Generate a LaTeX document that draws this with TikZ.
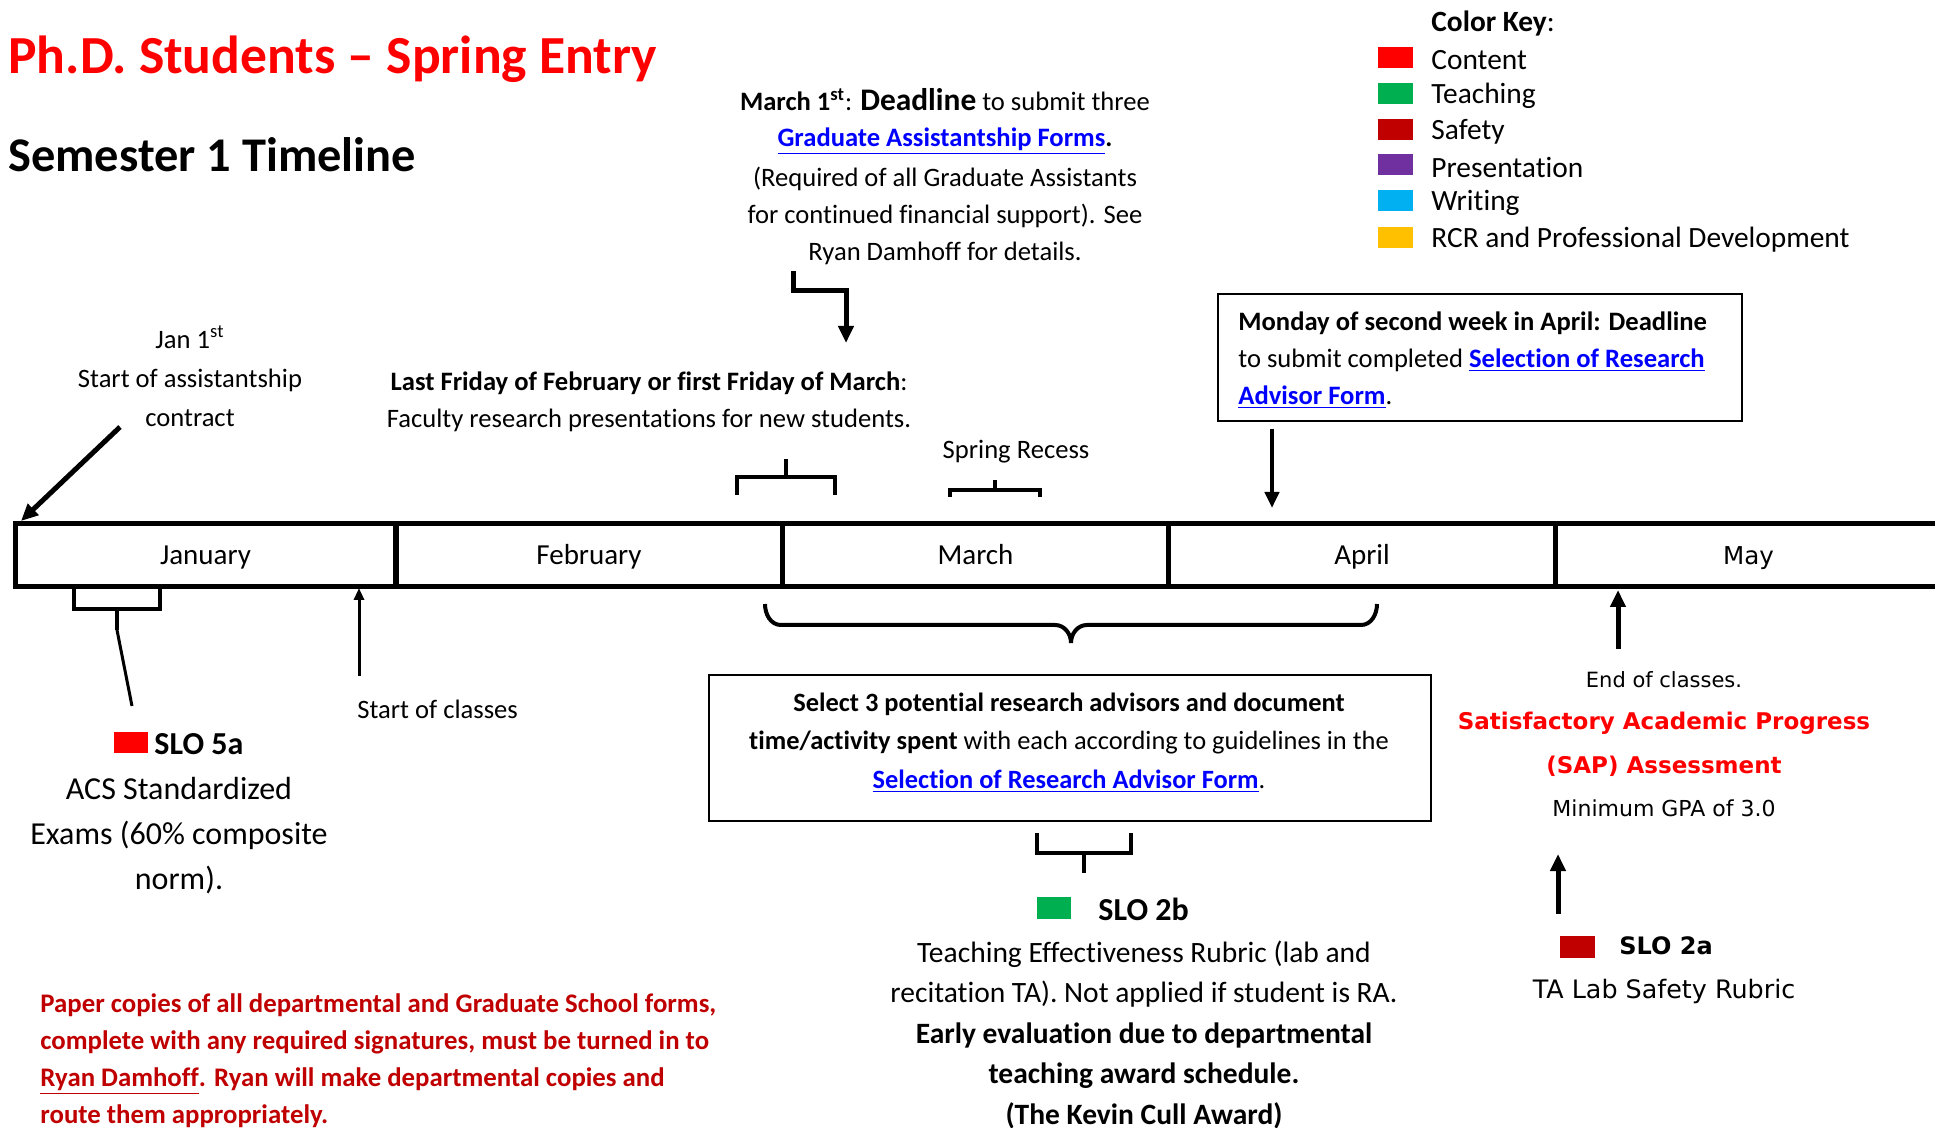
\documentclass[tikz,border=0pt]{standalone}
\usepackage{fontspec}
\setmainfont{Carlito}[Ligatures={TeX,NoCommon}]
\newfontfamily\vfont{DejaVu Sans}[Ligatures={NoCommon}]
\usetikzlibrary{arrows.meta,calc}
\definecolor{titlered}{HTML}{FF0000}
\definecolor{darkred}{HTML}{C00000}
\definecolor{kgreen}{HTML}{00B050}
\definecolor{kpurple}{HTML}{7030A0}
\definecolor{kblue}{HTML}{00B0F0}
\definecolor{kyellow}{HTML}{FFC000}
\definecolor{linkblue}{HTML}{0000FF}
\newcommand\lnk[1]{\textcolor{linkblue}{\textbf{\underline{#1}}}}
\newcommand\bodyf{\fontsize{13.3}{18.5}\selectfont}
\tikzset{
  txt/.style={inner sep=0pt, font=\bodyf},
  month/.style={draw, line width=2.5pt, minimum width=193.25pt, minimum height=31.5pt, inner sep=0pt, text height=10pt, text depth=0.5pt, font=\fontsize{14.5}{17}\selectfont},
  keysq/.style={rectangle, minimum width=17.5pt, minimum height=10.5pt, inner sep=0pt},
  keytxt/.style={anchor=west, inner sep=0pt, font=\fontsize{14.7}{17}\selectfont},
  arr/.style={line width=2.5pt, -{Triangle[length=8.5pt,width=7.5pt]}},
  thinarr/.style={line width=1.5pt, -{Triangle[length=6pt,width=5pt]}},
  brk/.style={line width=2pt},
  boxed/.style={draw, line width=1pt, inner sep=0pt}
}
\begin{document}
\begin{tikzpicture}[x=0.5pt,y=-0.5pt]
\useasboundingbox (0,0) rectangle (1935,1128);
\clip (0,0) rectangle (1935,1128);
\fill[white] (0,0) rectangle (1935,1128);

% titles
\node[anchor=west, inner sep=0pt, text=titlered, font=\fontsize{26.8}{32}\selectfont\bfseries] (title) at (8,59) {Ph.D. Students – Spring Entry};
\node[anchor=west, inner sep=0pt, font=\fontsize{24.2}{28}\selectfont\bfseries] (sem) at (8,155) {Semester 1 Timeline};

% color key
\node[keytxt] (keyt) at (1431,24) {\textbf{Color Key}:};
\node[keysq, fill=titlered] (k1) at (1395.5,58) {};
\node[keytxt] (k1t) at (1431,60) {Content};
\node[keysq, fill=kgreen] (k2) at (1395.5,94) {};
\node[keytxt] (k2t) at (1431,96) {Teaching};
\node[keysq, fill=darkred] (k3) at (1395.5,130) {};
\node[keytxt] (k3t) at (1431,132) {Safety};
\node[keysq, fill=kpurple] (k4) at (1395.5,165) {};
\node[keytxt] (k4t) at (1431,167) {Presentation};
\node[keysq, fill=kblue] (k5) at (1395.5,201) {};
\node[keytxt] (k5t) at (1431,203) {Writing};
\node[keysq, fill=kyellow] (k6) at (1395.5,238) {};
\node[keytxt] (k6t) at (1431,240) {RCR and Professional Development};

% March 1st deadline
\node[txt] (m1a) at (945,100) {\textbf{March 1\textsuperscript{st}}: {\fontsize{15.7}{18}\selectfont\textbf{Deadline}} to submit three};
\node[txt] (m1b) at (945,141) {\lnk{Graduate Assistantship Forms}\textbf{.}};
\node[txt, align=center] (m1c) at (945,215.5) {(Required of all Graduate Assistants\\for continued financial support). See\\Ryan Damhoff for details.};
\coordinate (z0) at (793,271);
\coordinate (z1) at (846,343);
\draw[arr] (z0) -- ++(0,20) -| (z1);

% last friday
\node[txt, align=center] (lf) at (649,402) {\textbf{Last Friday of February or first Friday of March}:\\Faculty research presentations for new students.};
\draw[brk] (737,495) -- (737,477) -- (835,477) -- (835,495);
\draw[brk] (786,477) -- (786,459);

% spring recess
\node[txt] (sr) at (1016,452) {Spring Recess};
\draw[brk] (950,497) -- (950,490) -- (1040,490) -- (1040,497);
\draw[brk] (995,490) -- (995,480);

% April box
\node[boxed, minimum width=262pt, minimum height=63.5pt] (aprbox) at (1480,357.5) {};
\node[txt, anchor=west, align=left] (aprtxt) at (1238,360.5) {\textbf{Monday of second week in April: Deadline}\\to submit completed \lnk{Selection of Research}\\\lnk{Advisor Form}.};
\coordinate (a1) at (1272,429);
\coordinate (a2) at (1272,508);
\draw[line width=2pt, -{Triangle[length=8pt,width=7pt]}] (a1) -- (a2);

% Jan 1st
\node[txt, align=center, font=\fontsize{13.3}{19.5}\selectfont] (jan1) at (190,376) {Jan 1\textsuperscript{st}\\Start of assistantship\\contract};
\coordinate (j0) at (120,427);
\coordinate (j1) at (21,521);
\draw[arr] (j0) -- (j1);

% timeline
\node[month, minimum width=190.5pt] (jan) at (205.5,555.5) {January};
\node[month] (feb) at (589,555.5) {February};
\node[month] (mar) at (975.5,555.5) {March};
\node[month] (apr) at (1362,555.5) {April};
\node[month, font=\vfont\fontsize{12.3}{15}\selectfont] (may) at (1748.5,555.5) {May};

% SLO 5a
\draw[brk] (74,587) -- (74,609) -- (160,609) -- (160,587);
\coordinate (s5a) at (117,609);
\coordinate (s5b) at (117,630);
\coordinate (s5c) at (132,706);
\draw[brk] (s5a) -- (s5b);
\draw[line width=1.5pt] (s5b) -- (s5c);
\node[keysq, fill=titlered, minimum width=17pt, minimum height=10.5pt] (sq5a) at (131,742.5) {};
\node[anchor=west, inner sep=0pt, font=\fontsize{16}{19}\selectfont\bfseries] (slo5a) at (154,744) {SLO 5a};
\node[align=center, inner sep=0pt, font=\fontsize{16}{22.5}\selectfont] (acs) at (179,835.5) {ACS Standardized\\Exams (60\% composite\\norm).};

% start of classes
\coordinate (sc0) at (359,676);
\coordinate (sc1) at (359,588);
\draw[thinarr] (sc0) -- (sc1);
\node[txt, anchor=west] (sct) at (357,709) {Start of classes};

% big brace
\draw[brk] (765,604) to[out=-90,in=180] (781,625) -- (1055,625) to[out=0,in=90] (1071,643) to[out=90,in=180] (1087,625) -- (1361,625) to[out=0,in=-90] (1377,604);

% select box
\node[boxed, minimum width=361pt, minimum height=72.5pt] (selbox) at (1070,748) {};
\node[txt, align=center, font=\fontsize{13.2}{19.2}\selectfont] (seltxt) at (1069,742.5) {\textbf{Select 3 potential research advisors and document}\\\textbf{time/activity spent} with each according to guidelines in the\\\lnk{Selection of Research Advisor Form}.};

% SLO 2b
\draw[brk] (1037,833) -- (1037,853) -- (1131,853) -- (1131,833);
\draw[brk] (1084,853) -- (1084,873);
\node[keysq, fill=kgreen, minimum width=17pt, minimum height=11pt] (sq2b) at (1054,908) {};
\node[anchor=west, inner sep=0pt, font=\fontsize{16}{19}\selectfont\bfseries] (slo2b) at (1098,909) {SLO 2b};
\node[align=center, inner sep=0pt, font=\fontsize{14.75}{20.25}\selectfont] (t2b) at (1144,1034.5) {Teaching Effectiveness Rubric (lab and\\recitation TA). Not applied if student is RA.\\\textbf{Early evaluation due to departmental}\\\textbf{teaching award schedule.}\\\textbf{(The Kevin Cull Award)}};

% end of classes
\coordinate (e0) at (1618,649);
\coordinate (e1) at (1618,590);
\draw[arr] (e0) -- (e1);
\node[inner sep=0pt, font=\vfont\fontsize{10.5}{13}\selectfont] (eoc) at (1664,680) {End of classes.};
\node[inner sep=0pt, align=center, text=titlered, font=\vfont\bfseries\fontsize{11.5}{22}\selectfont] (sap) at (1664,744) {Satisfactory Academic Progress\\(SAP) Assessment};
\node[inner sep=0pt, font=\vfont\fontsize{11}{13}\selectfont] (gpa) at (1664,808) {Minimum GPA of 3.0};

% SLO 2a
\coordinate (f0) at (1558,914);
\coordinate (f1) at (1558,854);
\draw[arr] (f0) -- (f1);
\node[keysq, fill=darkred, minimum width=17.5pt, minimum height=11pt] (sq2a) at (1577.5,947) {};
\node[anchor=west, inner sep=0pt, font=\vfont\bfseries\fontsize{12}{14}\selectfont] (slo2a) at (1619,946) {SLO 2a};
\node[inner sep=0pt, font=\vfont\fontsize{12.7}{15}\selectfont] (talab) at (1664,991) {TA Lab Safety Rubric};

% paper copies
\node[anchor=west, align=left, inner sep=0pt, text=darkred, font=\fontsize{13.4}{18.5}\selectfont\bfseries] (paper) at (40,1060.5) {Paper copies of all departmental and Graduate School forms,\\complete with any required signatures, must be turned in to\\\underline{Ryan Damhoff}. Ryan will make departmental copies and\\route them appropriately.};
\end{tikzpicture}
\end{document}
